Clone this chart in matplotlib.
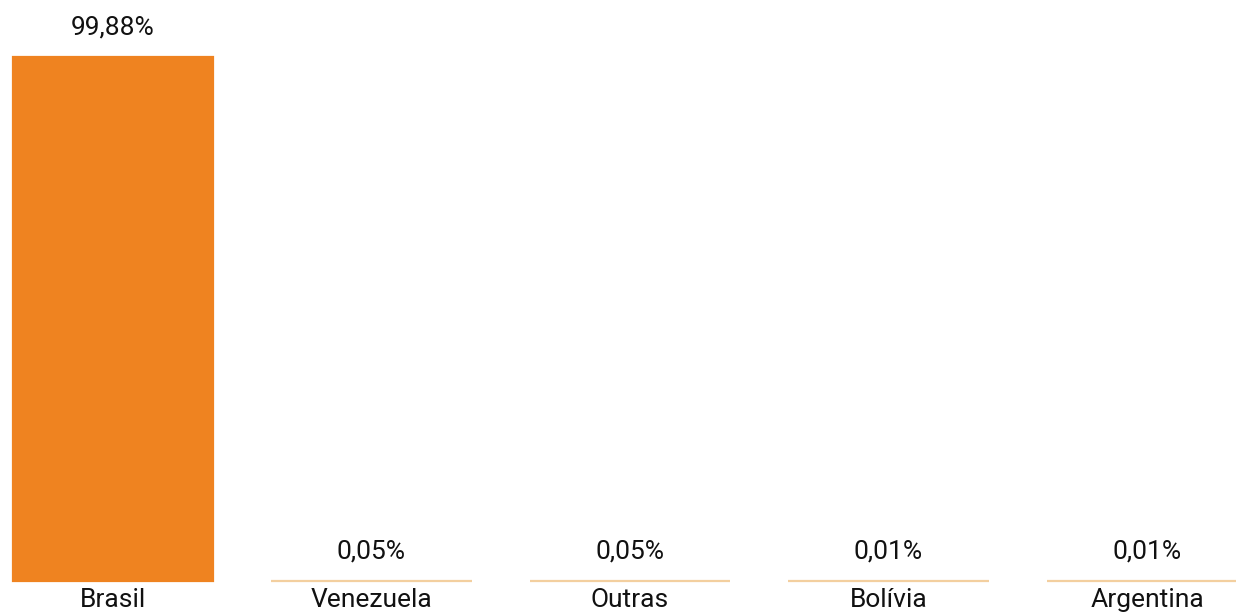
import numpy as np
import matplotlib.pyplot as plt

plt.rcParams['font.family'] = ['Roboto', 'DejaVu Sans']

# dados
paises = ['Brasil', 'Venezuela', 'Outras', 'Bolívia', 'Argentina']
valores = [99.88, 0.05, 0.05, 0.01, 0.01]
rotulos = ['99,88%', '0,05%', '0,05%', '0,01%', '0,01%']

fig = plt.figure(figsize=(12.36, 6.13), dpi=100)
ax = fig.add_axes([0, 0, 1, 1])

x = np.arange(len(paises))
larg = 0.774
bordas = ['#ef8320', '#f3cf9f', '#f3cf9f', '#f3cf9f', '#f3cf9f']
ax.bar(x, valores, width=larg, color='#ef8320', edgecolor=bordas, linewidth=1.6)

# escala: 258.5 px por categoria, base em y=581 px
ppu = 524 / 99.88
ax.set_xlim(-113 / 258.5, -113 / 258.5 + 1236 / 258.5)
ax.set_ylim(-32 / ppu, 99.88 + 57 / ppu)

for xi, v, r, p in zip(x, valores, rotulos, paises):
    ax.text(xi, v + 29 / ppu, r, ha='center', va='center', fontsize=19, color='#111111')
    ax.text(xi, -19 / ppu, p, ha='center', va='center', fontsize=19, color='#111111')

ax.axis('off')
fig.savefig('out.png', dpi=100)
